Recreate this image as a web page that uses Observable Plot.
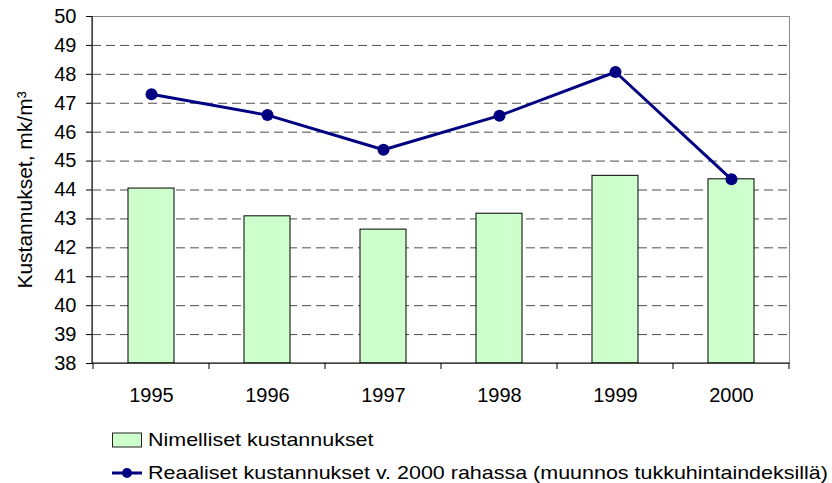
<!DOCTYPE html>
<html><head><meta charset="utf-8">
<script src="https://cdn.jsdelivr.net/npm/d3@7"></script>
<script src="https://cdn.jsdelivr.net/npm/@observablehq/plot@0.6"></script>
<style>
body{margin:0;background:#fff;font-family:"Liberation Sans",Arial,sans-serif;}
#legend{position:relative;height:63px;width:832px;}
.row{position:absolute;left:112px;height:32px;display:flex;align-items:center;font-size:19px;color:#000;white-space:nowrap;}
.row svg{margin-right:6px;flex:none;}
.row span{display:inline-block;transform:scaleX(1.13);transform-origin:left center;}
</style></head><body>
<div id="chart"></div>
<div id="legend"></div>
<script>
const years = ["1995", "1996", "1997", "1998", "1999", "2000"];
const nominal = [44.05, 43.09, 42.63, 43.18, 44.49, 44.37];
const real = [47.31, 46.59, 45.39, 46.57, 48.08, 44.37];
const yTicks = [38, 39, 40, 41, 42, 43, 44, 45, 46, 47, 48, 49, 50];
const gridTicks = [39, 40, 41, 42, 43, 44, 45, 46, 47, 48, 49];
const seriesNames = ["Nimelliset kustannukset", "Reaaliset kustannukset v. 2000 rahassa (muunnos tukkuhintaindeksillä)"];
const yLabel = "Kustannukset, mk/m³";

const data = years.map((year, i) => ({year, nominal: nominal[i], real: real[i]}));

const axisLines = (index, scales, values, dims) => {
  const g = d3.create("svg:g").attr("stroke", "#000").attr("stroke-width", 1);
  const x0 = dims.marginLeft, x1 = dims.width - dims.marginRight;
  const yt = dims.marginTop, yb = dims.height - dims.marginBottom;
  g.append("line").attr("x1", x0).attr("x2", x0).attr("y1", yt).attr("y2", yb);
  g.append("line").attr("x1", x0).attr("x2", x1).attr("y1", yb).attr("y2", yb);
  const bw = scales.x.bandwidth ? scales.x.bandwidth() : (x1 - x0) / years.length;
  const bounds = years.map(y => scales.x(y)).concat([scales.x(years[years.length - 1]) + bw]);
  for (const b of bounds) g.append("line").attr("x1", b).attr("x2", b).attr("y1", yb).attr("y2", yb + 6);
  return g.node();
};

const chart = Plot.plot({
  width: 832, height: 420,
  marginLeft: 92, marginRight: 43, marginTop: 16, marginBottom: 57,
  style: {fontFamily: "Liberation Sans, Arial, sans-serif", background: "white", color: "#000"},
  x: {domain: years, padding: 0, label: null},
  y: {domain: [38, 50], label: null},
  marks: [
    Plot.gridY(gridTicks, {stroke: "#000", strokeOpacity: 0.7, strokeDasharray: "9,5", strokeWidth: 1}),
    Plot.barY(data, {x: "year", y1: 38, y2: "nominal", fill: "#CCFFCC", stroke: "#000", strokeWidth: 1, insetLeft: 35, insetRight: 35}),
    Plot.frame({stroke: "#888"}),
    axisLines,
    Plot.axisY({ticks: yTicks, tickSize: 6, tickPadding: 10, fontSize: 20, label: null}),
    Plot.axisY({ticks: [], tickSize: 0, fontSize: 21, label: yLabel, labelAnchor: "center", labelOffset: 75, labelArrow: "none"}),
    Plot.axisX({tickSize: 0, tickPadding: 24, fontSize: 20, label: null}),
    Plot.line(data, {x: "year", y: "real", stroke: "#000080", strokeWidth: 3}),
    Plot.dot(data, {x: "year", y: "real", r: 6, fill: "#000080"})
  ]
});
document.getElementById("chart").append(chart);

const legend = document.getElementById("legend");
const swatches = [
  `<svg width="30" height="16"><rect x="0.5" y="1" width="29" height="14" fill="#CCFFCC" stroke="#222"/></svg>`,
  `<svg width="30" height="16"><line x1="0" x2="30" y1="8" y2="8" stroke="#000080" stroke-width="3"/><circle cx="15" cy="8" r="5" fill="#000080"/></svg>`
];
seriesNames.forEach((name, i) => {
  const row = document.createElement("div");
  row.className = "row";
  row.style.top = (4 + i * 33) + "px";
  row.innerHTML = swatches[i] + `<span>${name}</span>`;
  legend.append(row);
});
</script>
</body></html>
